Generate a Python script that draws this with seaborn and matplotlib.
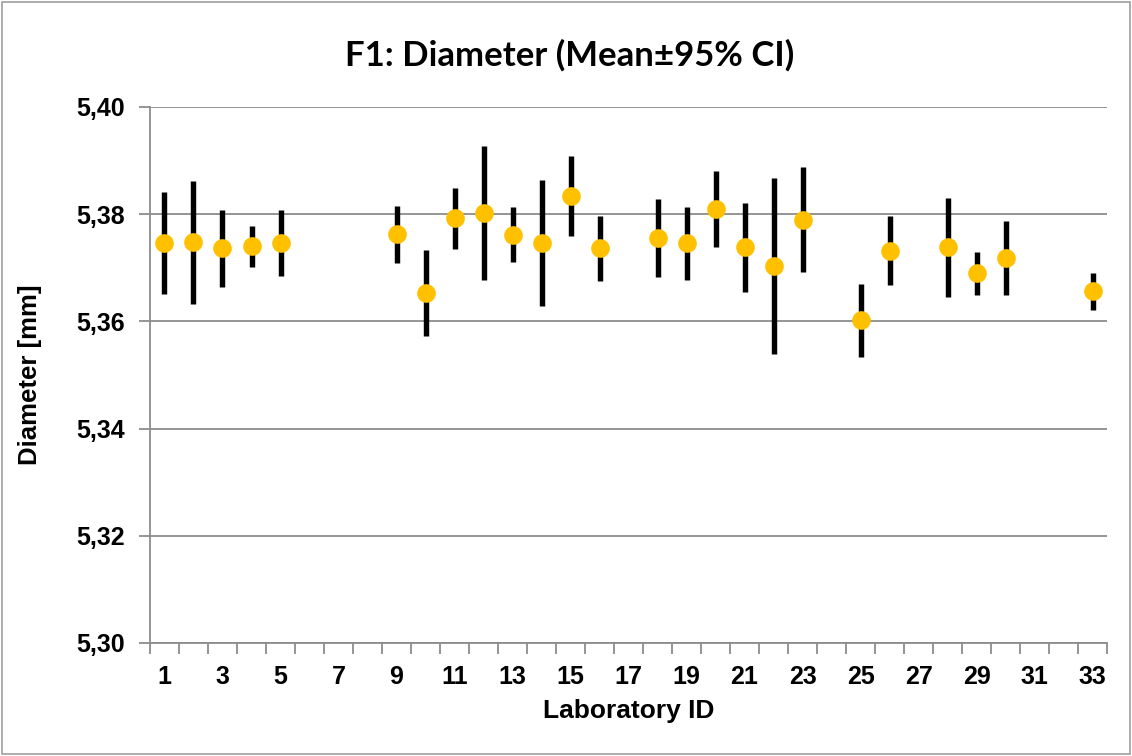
import matplotlib
matplotlib.use("Agg")
import matplotlib.pyplot as plt
import seaborn as sns
import pandas as pd
from matplotlib.patches import Rectangle
from matplotlib.ticker import FixedLocator, FuncFormatter

# Lab results (mean with 95% CI limits)
labs = [1, 2, 3, 4, 5, 9, 10, 11, 12, 13, 14, 15, 16, 18, 19, 20, 21, 22, 23, 25, 26, 28, 29, 30, 33]
means = [5.3746, 5.3748, 5.3737, 5.3741, 5.3746, 5.3763, 5.3653, 5.3793, 5.3802, 5.3761, 5.3746, 5.3834, 5.3736,
         5.3756, 5.3746, 5.3810, 5.3738, 5.3704, 5.3790, 5.3602, 5.3732, 5.3739, 5.3690, 5.3719, 5.3656]
upper = [5.3842, 5.3861, 5.3808, 5.3778, 5.3807, 5.3816, 5.3734, 5.3849, 5.3927, 5.3813, 5.3864, 5.3908, 5.3797,
         5.3829, 5.3814, 5.3880, 5.3821, 5.3868, 5.3888, 5.3669, 5.3797, 5.3831, 5.3730, 5.3787, 5.3690]
lower = [5.3651, 5.3633, 5.3664, 5.3701, 5.3685, 5.3709, 5.3573, 5.3735, 5.3677, 5.3710, 5.3629, 5.3760, 5.3676,
         5.3683, 5.3678, 5.3739, 5.3655, 5.3540, 5.3693, 5.3534, 5.3667, 5.3646, 5.3650, 5.3650, 5.3622]

y_ticks = [5.30, 5.32, 5.34, 5.36, 5.38, 5.40]
x_labels = list(range(1, 34, 2))

df = pd.DataFrame({"lab": labs, "mean": means, "lo": lower, "hi": upper})

sns.set_style("white")
plt.rcParams["font.family"] = ["Liberation Sans", "DejaVu Sans"]
plt.rcParams["text.color"] = "black"
plt.rcParams["axes.labelcolor"] = "black"
plt.rcParams["xtick.labelcolor"] = "black"
plt.rcParams["ytick.labelcolor"] = "black"

fig = plt.figure(figsize=(11.32, 7.56), dpi=100)
ax = fig.add_axes([0.1325, 0.1495, 0.8455, 0.709])

grid_col = "#8C8C8C"

# CI bars
ax.vlines(df["lab"], df["lo"], df["hi"], color="black", linewidth=3.9, zorder=3)

# means
sns.scatterplot(data=df, x="lab", y="mean", ax=ax, color="#FFC000", s=180,
                edgecolor="#FFC000", linewidth=0, zorder=4, legend=False)

ax.set_xlim(0.5, 33.5)
ax.set_ylim(5.30, 5.40)

ax.yaxis.set_major_locator(FixedLocator(y_ticks))
ax.yaxis.set_major_formatter(FuncFormatter(lambda v, p: f"{v:.2f}".replace(".", ",")))
ax.grid(axis="y", color=grid_col, linewidth=1.3, zorder=0)
ax.set_axisbelow(True)

# category axis: ticks between categories, labels on odd ids
ax.set_xticks([x + 0.5 for x in range(0, 34)])
ax.set_xticklabels([])
ax.set_xticks(x_labels, minor=True)
ax.set_xticklabels([str(x) for x in x_labels], minor=True)
ax.tick_params(axis="x", which="major", direction="out", length=8, color=grid_col, width=1.3, bottom=True)
ax.tick_params(axis="x", which="minor", length=0, pad=16, labelsize=18)
ax.tick_params(axis="y", direction="out", length=8, color=grid_col, width=1.3, left=True, pad=10, labelsize=18)
for lab in ax.get_xticklabels(minor=True) + ax.get_yticklabels():
    lab.set_fontweight("bold")

for side in ["top", "right"]:
    ax.spines[side].set_visible(False)
for side in ["left", "bottom"]:
    ax.spines[side].set_color(grid_col)
    ax.spines[side].set_linewidth(1.3)

ax.set_xlabel("Laboratory ID", fontsize=19, fontweight="bold")
ax.set_ylabel("Diameter [mm]", fontsize=18.5, fontweight="bold")
ax.xaxis.set_label_coords(0.5, -0.104)
ax.yaxis.set_label_coords(-0.113, 0.5)

fig.text(0.503, 0.927, "F1: Diameter (Mean\u00b195% CI)", ha="center", va="center",
         fontsize=25, fontweight="bold", family=["Lato", "DejaVu Sans"])

# chart area border
fig.patches.append(Rectangle((0.0015, 0.002), 0.997, 0.996, transform=fig.transFigure,
                             fill=False, edgecolor="#A6A6A6", linewidth=1.3))

plt.savefig("out.png", dpi=100)
plt.close()
